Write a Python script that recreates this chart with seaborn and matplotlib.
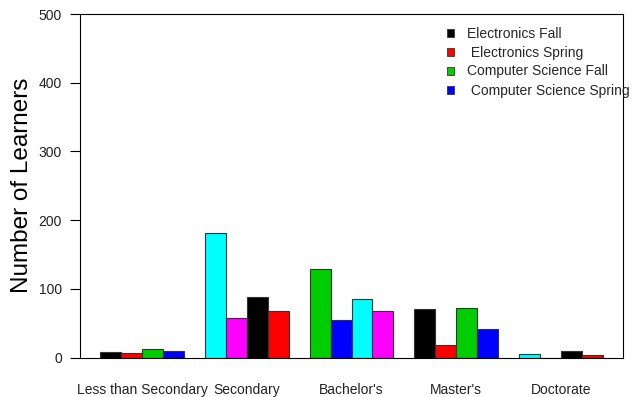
import matplotlib
matplotlib.use("Agg")
import matplotlib.pyplot as plt
import seaborn as sns
import pandas as pd
from matplotlib.patches import Patch

# ---- data ----
levels = ["Less than Secondary", "Secondary", "Bachelor's", "Master's", "Doctorate"]
series = ["Electronics Fall", " Electronics Spring", "Computer Science Fall", " Computer Science Spring"]
elec_fall = [8, 181, 129, 71, 5]
elec_spring = [7, 57, 54, 18, 0]
cs_fall = [12, 88, 85, 72, 9]
cs_spring = [9, 68, 68, 42, 3]
yticks = [0, 100, 200, 300, 400, 500]

# R default palette cycling over bars
bar_cycle = ["#000000", "#FF0000", "#00CD00", "#0000FF", "#00FFFF", "#FF00FF"]

rows = []
for s, vals in zip(series, [elec_fall, elec_spring, cs_fall, cs_spring]):
    for lv, v in zip(levels, vals):
        rows.append({"level": lv, "series": s, "value": v})
df = pd.DataFrame(rows)

sns.set_style("white")
plt.rcParams["font.family"] = ["Liberation Sans", "DejaVu Sans"]

W, H = 632, 397
fig = plt.figure(figsize=(W / 100, H / 100), dpi=100)
ax = fig.add_axes([80 / W, 1 - 357.5 / H, 543 / W, 343.5 / H])

sns.barplot(data=df, x="level", y="value", hue="series", order=levels,
            hue_order=series, palette=bar_cycle[:4], width=0.8,
            edgecolor="#333333", linewidth=0.8, saturation=1, ax=ax,
            legend=False, errorbar=None)

nser = len(series)
for h, cont in enumerate(ax.containers):
    for g, bar in enumerate(cont):
        bar.set_facecolor(bar_cycle[(g * nser + h) % len(bar_cycle)])

ax.set_xlim(-0.592, 4.592)
ax.set_ylim(0, 500)
ax.set_yticks(yticks)
ax.set_xlabel("")
ax.tick_params(axis="y", length=7, width=0.8, color="black", pad=6,
               labelsize=10, labelcolor="#222222", left=True)
ax.tick_params(axis="x", length=0, pad=18.5, labelsize=10, labelcolor="#222222")
for sp in ax.spines.values():
    sp.set_visible(True)
    sp.set_color("black")
    sp.set_linewidth(0.8)

ax.set_ylabel("Number of Learners", fontsize=17.5, color="black")
ax.yaxis.label.set_verticalalignment("center")
ax.yaxis.set_label_coords((22.5 - 80) / 543, 0.5)

handles = [Patch(facecolor=bar_cycle[i], edgecolor="#333333", linewidth=0.6) for i in range(nser)]
ax.legend(handles, series, loc="upper left", bbox_to_anchor=((447 - 80) / 543, (357.5 - 26.5) / 343.5),
          frameon=False, fontsize=10, handlelength=0.52, handleheight=0.52,
          handletextpad=0.95, labelspacing=0.36, borderpad=0, borderaxespad=0)

fig.savefig("out.png", dpi=100)
